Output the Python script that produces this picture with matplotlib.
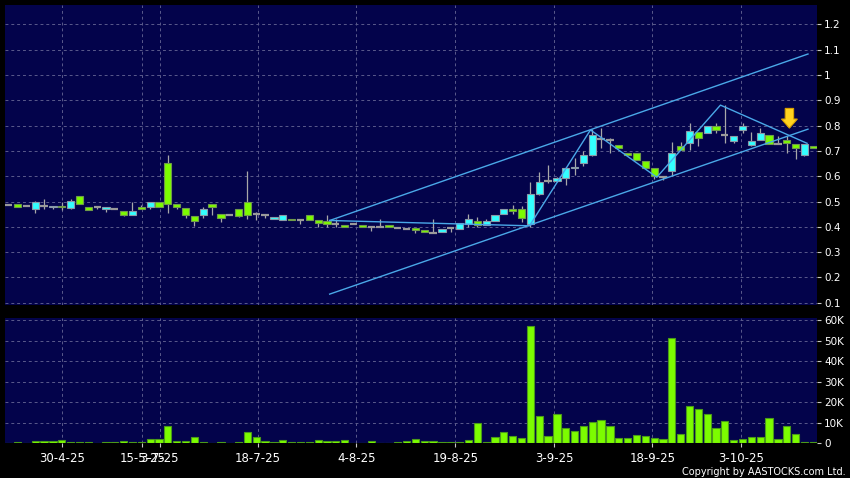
import matplotlib
matplotlib.use("Agg")
import matplotlib.pyplot as plt
from matplotlib.ticker import FuncFormatter, FixedLocator
from matplotlib.patches import FancyArrow

# ---------------- data ----------------
opens = [0.486, 0.489, 0.483, 0.469, 0.483, 0.477, 0.483, 0.475, 0.520, 0.477,
         0.477, 0.469, 0.469, 0.461, 0.448, 0.477, 0.480, 0.500, 0.651, 0.490,
         0.475, 0.443, 0.445, 0.490, 0.451, 0.445, 0.469, 0.500, 0.450, 0.445,
         0.430, 0.427, 0.432, 0.427, 0.445, 0.426, 0.422, 0.410, 0.408, 0.411,
         0.406, 0.398, 0.398, 0.406, 0.395, 0.392, 0.395, 0.387, 0.374, 0.378,
         0.395, 0.390, 0.410, 0.422, 0.407, 0.422, 0.449, 0.469, 0.469, 0.410,
         0.528, 0.581, 0.581, 0.594, 0.632, 0.651, 0.684, 0.748, 0.743, 0.723,
         0.692, 0.692, 0.660, 0.631, 0.596, 0.620, 0.721, 0.733, 0.776, 0.772,
         0.800, 0.763, 0.740, 0.783, 0.723, 0.743, 0.763, 0.726, 0.743, 0.727,
         0.684, 0.720]
highs = [0.486, 0.490, 0.483, 0.502, 0.510, 0.484, 0.500, 0.509, 0.520, 0.477,
         0.477, 0.477, 0.469, 0.461, 0.500, 0.486, 0.500, 0.500, 0.684, 0.490,
         0.475, 0.443, 0.480, 0.490, 0.451, 0.445, 0.469, 0.620, 0.460, 0.445,
         0.440, 0.445, 0.432, 0.427, 0.445, 0.426, 0.447, 0.431, 0.408, 0.411,
         0.406, 0.398, 0.430, 0.406, 0.395, 0.392, 0.395, 0.387, 0.430, 0.390,
         0.395, 0.414, 0.449, 0.440, 0.430, 0.445, 0.469, 0.485, 0.482, 0.578,
         0.618, 0.644, 0.595, 0.635, 0.671, 0.700, 0.785, 0.789, 0.750, 0.723,
         0.692, 0.692, 0.660, 0.631, 0.600, 0.736, 0.735, 0.809, 0.776, 0.798,
         0.810, 0.881, 0.760, 0.810, 0.776, 0.790, 0.763, 0.760, 0.760, 0.727,
         0.727, 0.720]
lows = [0.486, 0.478, 0.483, 0.453, 0.469, 0.469, 0.466, 0.469, 0.489, 0.465,
        0.469, 0.460, 0.469, 0.444, 0.448, 0.469, 0.469, 0.480, 0.453, 0.470,
        0.434, 0.404, 0.434, 0.447, 0.420, 0.445, 0.440, 0.430, 0.427, 0.434,
        0.430, 0.427, 0.427, 0.410, 0.427, 0.398, 0.398, 0.398, 0.399, 0.411,
        0.398, 0.385, 0.398, 0.398, 0.395, 0.392, 0.374, 0.378, 0.374, 0.378,
        0.378, 0.390, 0.398, 0.398, 0.407, 0.422, 0.449, 0.449, 0.420, 0.400,
        0.525, 0.572, 0.578, 0.565, 0.605, 0.640, 0.680, 0.710, 0.690, 0.712,
        0.685, 0.663, 0.634, 0.590, 0.585, 0.600, 0.704, 0.704, 0.720, 0.772,
        0.770, 0.730, 0.730, 0.770, 0.720, 0.743, 0.726, 0.726, 0.690, 0.670,
        0.680, 0.713]
closes = [0.486, 0.479, 0.483, 0.497, 0.483, 0.483, 0.477, 0.501, 0.489, 0.465,
          0.477, 0.477, 0.469, 0.448, 0.461, 0.469, 0.500, 0.480, 0.489, 0.477,
          0.447, 0.424, 0.469, 0.477, 0.434, 0.445, 0.443, 0.448, 0.450, 0.445,
          0.440, 0.445, 0.427, 0.427, 0.427, 0.414, 0.410, 0.410, 0.399, 0.411,
          0.398, 0.398, 0.398, 0.398, 0.395, 0.392, 0.387, 0.378, 0.374, 0.390,
          0.395, 0.414, 0.430, 0.407, 0.422, 0.445, 0.469, 0.461, 0.434, 0.528,
          0.578, 0.581, 0.592, 0.631, 0.638, 0.684, 0.763, 0.748, 0.743, 0.712,
          0.685, 0.663, 0.634, 0.600, 0.596, 0.690, 0.704, 0.780, 0.750, 0.798,
          0.783, 0.763, 0.760, 0.800, 0.740, 0.770, 0.726, 0.726, 0.733, 0.710,
          0.727, 0.713]
volumes_k = [0, 0.3, 0, 1.1, 1.1, 1.1, 1.6, 0.5, 0.3, 0.6,
             0, 0.3, 0.3, 1.1, 0.5, 0.5, 1.8, 2.0, 8.1, 1.0,
             1.0, 2.9, 0.5, 0.1, 0.6, 0.1, 0.5, 5.4, 3.1, 1.1,
             0.3, 1.5, 0.6, 0.6, 0.6, 1.5, 1.0, 1.0, 1.5, 0.1,
             0, 1.1, 0.1, 0, 0.3, 1.0, 2.1, 0.8, 0.8, 0.3,
             0.3, 0.3, 1.6, 9.7, 0.3, 3.1, 5.4, 3.2, 2.6, 57.4,
             13.0, 3.6, 14.1, 7.3, 6.0, 8.1, 10.4, 11.0, 8.4, 2.6,
             2.3, 3.9, 3.2, 2.6, 1.9, 51.4, 4.4, 17.9, 16.7, 14.1,
             7.1, 10.9, 1.3, 2.1, 2.9, 3.1, 12.2, 1.8, 8.1, 4.2,
             0.3, 0.5]

date_labels = ["30-4-25", "15-5-25", "3-7-25", "18-7-25", "4-8-25",
               "19-8-25", "3-9-25", "18-9-25", "3-10-25"]
date_pos = [6.0, 15.1, 17.1, 28.2, 39.3, 50.5, 61.7, 72.8, 82.8]

price_ticks = [0.1, 0.2, 0.3, 0.4, 0.5, 0.6, 0.7, 0.8, 0.9, 1.0, 1.1, 1.2]
vol_ticks_k = [0, 10, 20, 30, 40, 50, 60]

# drawn trend lines (bar index, price)
upper_x, upper_y = [36.3, 90.4], [0.425, 1.083]
lower_x, lower_y = [36.3, 90.4], [0.134, 0.786]
zig_x = [36.3, 58.9, 65.8, 73.3, 80.5, 90.3]
zig_y = [0.425, 0.404, 0.783, 0.596, 0.881, 0.730]
arrow_x, arrow_top, arrow_tip = 88.3, 0.868, 0.790

# ---------------- styling ----------------
BG = "#03034b"
GRID = "#5a5a8c"
CYAN = "#33ffff"
GREEN = "#7cfc00"
WICK = "#a8a8a8"
LINE = "#4aa8e8"
W, H = 850, 478

fig = plt.figure(figsize=(W / 100, H / 100), dpi=100, facecolor="black")
axp = fig.add_axes([5 / W, (H - 305) / H, 812 / W, 300 / H])
axv = fig.add_axes([5 / W, (H - 443) / H, 812 / W, 125 / H])

n = len(opens)
xs = list(range(n))
bw = 0.82

for ax in (axp, axv):
    ax.set_facecolor(BG)
    for s in ax.spines.values():
        s.set_visible(False)
    ax.set_xlim(-0.42, 91.42)
    ax.xaxis.set_major_locator(FixedLocator(date_pos))
    ax.grid(True, color=GRID, linestyle=(0, (3, 3)), linewidth=0.7)
    ax.set_axisbelow(True)
    ax.yaxis.tick_right()
    ax.tick_params(axis="y", colors="#c8c8c8", labelcolor="white", length=3,
                   width=0.8, pad=2, labelsize=7.5, direction="out")

# candles
for i in xs:
    o, h, l, c = opens[i], highs[i], lows[i], closes[i]
    if h > l:
        axp.vlines(i, l, h, color=WICK, linewidth=0.9, zorder=2)
    if c > o:
        axp.bar(i, c - o, bottom=o, width=bw, color=CYAN, edgecolor="#8a9aa8",
                linewidth=0.8, zorder=3)
    elif c < o:
        axp.bar(i, o - c, bottom=c, width=bw, color=GREEN, edgecolor="#6f9a4a",
                linewidth=0.8, zorder=3)
    else:
        axp.hlines(o, i - bw / 2, i + bw / 2, color="#9a9a9a", linewidth=1.6, zorder=3)

axp.plot(upper_x, upper_y, color=LINE, linewidth=1.0, zorder=4)
axp.plot(lower_x, lower_y, color=LINE, linewidth=1.0, zorder=4)
axp.plot(zig_x, zig_y, color=LINE, linewidth=1.0, zorder=4)

axp.add_patch(FancyArrow(arrow_x, arrow_top, 0, arrow_tip - arrow_top, width=0.95,
                         head_width=1.8, head_length=0.036, length_includes_head=True,
                         facecolor="#ffd21f", edgecolor="#d9a000", linewidth=0.8,
                         zorder=6))

axp.set_ylim(0.091, 1.2767)
axp.yaxis.set_major_locator(FixedLocator(price_ticks))
axp.yaxis.set_major_formatter(FuncFormatter(lambda v, p: "%g" % round(v, 2)))
axp.tick_params(axis="x", length=0, labelbottom=False)

# volume
axv.bar(xs, [v * 1000 for v in volumes_k], width=bw, color=GREEN,
        edgecolor="#4a9a1a", linewidth=0.8, zorder=3)
axv.set_ylim(0, 61100)
axv.yaxis.set_major_locator(FixedLocator([v * 1000 for v in vol_ticks_k]))
axv.yaxis.set_major_formatter(FuncFormatter(
    lambda v, p: "0" if v == 0 else "%dK" % round(v / 1000)))
axv.set_xticks(date_pos)
axv.set_xticklabels(date_labels)
axv.tick_params(axis="x", colors="#c8c8c8", labelcolor="white", length=3,
                width=0.8, pad=3.5, labelsize=8.5, direction="out")

fig.text(846 / W, 1 - 472 / H, "Copyright by AASTOCKS.com Ltd.", ha="right",
         va="center", color="white", fontsize=7)

fig.savefig("out.png", dpi=100, facecolor="black")
